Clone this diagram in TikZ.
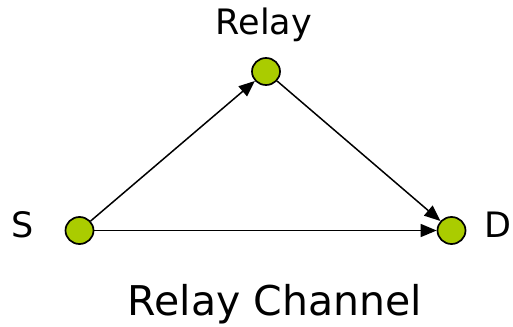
\documentclass[tikz,border=0pt]{standalone}
\usepackage{fontspec}
\setmainfont{DejaVu Sans}
\usetikzlibrary{arrows.meta,shapes.geometric}
\definecolor{nodegreen}{RGB}{170,204,0}
\tikzset{
  term/.style={ellipse, draw=black, line width=1.7pt, fill=nodegreen, minimum width=28pt, minimum height=27pt, inner sep=0pt},
  lbl/.style={font=\fontsize{35}{40}\selectfont, inner sep=0pt, anchor=base},
  link/.style={line width=1.5pt, -{Triangle[length=16pt,width=13pt]}}
}
\begin{document}
\begin{tikzpicture}[x=1pt,y=-1pt]
\useasboundingbox (0,0) rectangle (513,326);
\node[term] (s) at (79.5,230.5) {};
\node[term] (r) at (266,71.5) {};
\node[term] (d) at (451.5,230.5) {};
\node[lbl] (rl) at (264,35) {Relay};
\node[lbl] (sl) at (22.5,237) {S};
\node[lbl] (dl) at (497.5,237) {D};
\node[lbl, font=\fontsize{41}{46}\selectfont] (cap) at (275,315) {Relay Channel};
\draw[link] (s) -- (r);
\draw[link] (r) -- (d);
\draw[link] (s) -- (d);
\end{tikzpicture}
\end{document}
